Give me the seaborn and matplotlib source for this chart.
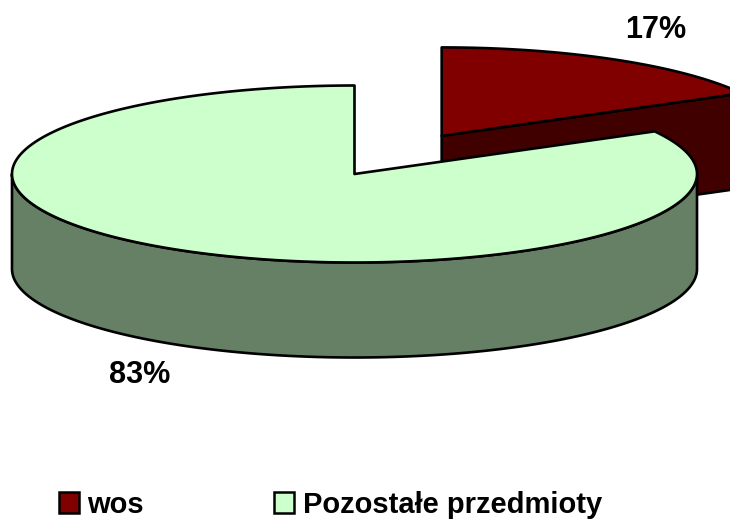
import numpy as np
import matplotlib
matplotlib.use("Agg")
import matplotlib.pyplot as plt
from matplotlib.patches import Polygon, Patch
import seaborn as sns

# dane
labels = ['wos', 'Pozostałe przedmioty']
values = [17, 83]
pct_labels = ['17%', '83%']
explode = [0.5, 0.0]
top_colors = ['#800000', '#CCFFCC']
side_colors = ['#400000', '#668066']

sns.set_style("white")
plt.rcParams['font.family'] = ['Liberation Sans', 'DejaVu Sans']
plt.rcParams['text.color'] = 'black'

W, H = 730, 521
fig = plt.figure(figsize=(W / 100, H / 100), dpi=100)
ax = fig.add_axes([0, 0, 1, 1])
ax.set_xlim(0, W)
ax.set_ylim(H, 0)
ax.axis('off')

# geometria elipsy (w pikselach)
cx, cy = 354.5, 174.0
a, b = 342.5, 88.5
depth = 95.0
lw = 1.9


def rim(c, t):
    t = np.radians(t)
    return np.column_stack([c[0] + a * np.cos(t), c[1] - b * np.sin(t)])


total = float(sum(values))
cum = np.concatenate([[0], np.cumsum(values)])
slices = []
for i in range(len(values)):
    ts = 90 - cum[i] / total * 360
    te = 90 - cum[i + 1] / total * 360
    m = (ts + te) / 2
    c = (cx + explode[i] * a * np.cos(np.radians(m)),
         cy - explode[i] * b * np.sin(np.radians(m)))
    slices.append((i, ts, te, m, c))

# od tylu do przodu
slices.sort(key=lambda s: -np.sin(np.radians(s[3])))

for i, ts, te, m, c in slices:
    down = np.array([0, depth])
    # sciany boczne (radialne)
    for ang, nrm in [(te, te - 90), (ts, ts + 90)]:
        if np.sin(np.radians(nrm)) < -1e-6:
            p = rim(c, [ang])[0]
            quad = np.array([c, p, p + down, np.array(c) + down])
            ax.add_patch(Polygon(quad, closed=True, fc=side_colors[i],
                                 ec='black', lw=lw, joinstyle='round'))
    # sciana zewnetrzna
    for k in range(-2, 2):
        lo, hi = max(te, -180 + 360 * k), min(ts, 360 * k)
        if hi > lo:
            t = np.linspace(lo, hi, 200)
            top = rim(c, t)
            bot = top + down
            ax.add_patch(Polygon(np.vstack([top, bot[::-1]]), closed=True,
                                 fc=side_colors[i], ec='black', lw=lw,
                                 joinstyle='round'))
    # gorna powierzchnia
    t = np.linspace(ts, te, 400)
    face = np.vstack([[c], rim(c, t)])
    ax.add_patch(Polygon(face, closed=True, fc=top_colors[i], ec='black',
                         lw=lw, joinstyle='round'))
    # etykieta procentowa
    lx = c[0] + 1.23 * a * np.cos(np.radians(m))
    ly = c[1] - 1.39 * b * np.sin(np.radians(m))
    if np.sin(np.radians(m)) < 0:
        ly += depth
    ax.text(lx, ly, pct_labels[i], ha='center', va='center',
            fontsize=22, fontweight='bold', color='black')

handles = [Patch(fc=top_colors[i], ec='black', lw=1.8) for i in range(len(labels))]
leg = ax.legend(handles, labels, ncol=2, loc='lower left',
                bbox_to_anchor=(59 / W, 0.004), frameon=False,
                prop={'size': 21, 'weight': 'bold'}, labelcolor='black',
                handlelength=0.7, handleheight=0.7, handletextpad=0.28,
                columnspacing=4.45, borderpad=0, borderaxespad=0)

fig.savefig('out.png', dpi=100)
